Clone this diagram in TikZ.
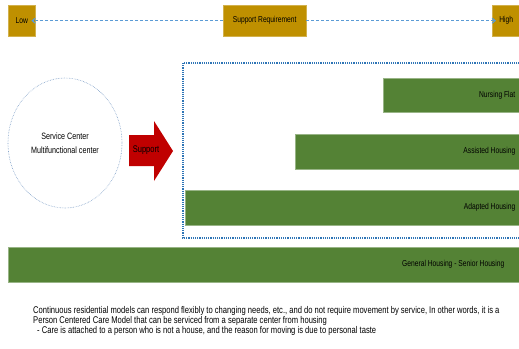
\documentclass[tikz,border=0pt]{standalone}
\usepackage{fontspec}
\setmainfont{Liberation Sans}[FakeStretch=0.78]
\usetikzlibrary{arrows.meta,shapes.geometric}
\definecolor{goldbox}{HTML}{BF9000}
\definecolor{barGreen}{HTML}{548235}
\definecolor{arrowRed}{HTML}{C00000}
\definecolor{scaleBlue}{HTML}{5B9BD5}
\definecolor{frameBlue}{HTML}{2E75B6}
\definecolor{ringBlue}{HTML}{7F9FC7}
\tikzset{
  tag/.style={fill=goldbox, draw=goldbox!70!white, line width=0.4pt, inner sep=0pt,
    font=\fontsize{8.6}{10}\selectfont, anchor=north west},
  bar/.style={fill=barGreen, draw=barGreen!60!white, line width=0.5pt, inner sep=0pt,
    anchor=north west},
  barlabel/.style={font=\fontsize{8.6}{10}\selectfont, anchor=east, inner sep=0pt},
  scale arrow/.style={scaleBlue, densely dashed, line width=1.1pt,
    -{Straight Barb[length=3pt,width=5pt]}},
}
\begin{document}
\begin{tikzpicture}[x=1pt,y=-1pt]
\useasboundingbox (0,0) rectangle (519,348);
\clip (0,0) rectangle (519,348);

% support requirement scale
\node[tag, minimum width=27pt, minimum height=31pt] (low) at (8,5) {Low};
\node[tag, minimum width=83pt, minimum height=31pt] (req) at (223,5) {Support Requirement};
\node[tag, minimum width=28pt, minimum height=31pt] (high) at (492,5) {High};
\draw[scale arrow] (req.west) -- ([xshift=-4pt]low.east);
\draw[scale arrow] (req.east) -- ([xshift=4pt]high.west);

% service centre
\node[ellipse, draw=ringBlue, densely dotted, line width=0.6pt,
  minimum width=114pt, minimum height=130pt, align=center,
  font=\fontsize{9.2}{14}\selectfont] (centre) at (65,143)
  {Service Center\\Multifunctional center};

% support arrow
\fill[arrowRed] (129,135) -- (154,135) -- (154,121) -- (173,151)
  -- (154,181) -- (154,166) -- (129,166) -- cycle;
\node[font=\fontsize{9.6}{10}\selectfont, inner sep=0pt] (support) at (146,150) {Support};

% housing continuum frame
\draw[frameBlue, densely dotted, line width=1.2pt] (183,63) rectangle (525,238);

% housing bars
\node[bar, minimum width=140pt, minimum height=34pt] (nursing) at (383,78) {};
\node[barlabel] at ([xshift=-8pt]nursing.east) {Nursing Flat};
\node[bar, minimum width=228pt, minimum height=35pt] (assisted) at (295,134) {};
\node[barlabel] at ([xshift=-8pt]assisted.east) {Assisted Housing};
\node[bar, minimum width=338pt, minimum height=35pt] (adapted) at (185,190) {};
\node[barlabel] at ([xshift=-8pt]adapted.east) {Adapted Housing};
\node[bar, minimum width=515pt, minimum height=35pt] (general) at (8,247) {};
\node[barlabel] at ([xshift=-19pt]general.east) {General Housing - Senior Housing};

% explanatory note
\node[anchor=north west, inner sep=0pt, align=left,
  font=\fontsize{9.75}{9}\selectfont] (note) at (33,306)
  {Continuous residential models can respond flexibly to changing needs, etc., and do not require movement by service, In other words, it is a\\
   Person Centered Care Model that can be serviced from a separate center from housing\\
   \hspace*{4pt}- Care is attached to a person who is not a house, and the reason for moving is due to personal taste};
\end{tikzpicture}
\end{document}
